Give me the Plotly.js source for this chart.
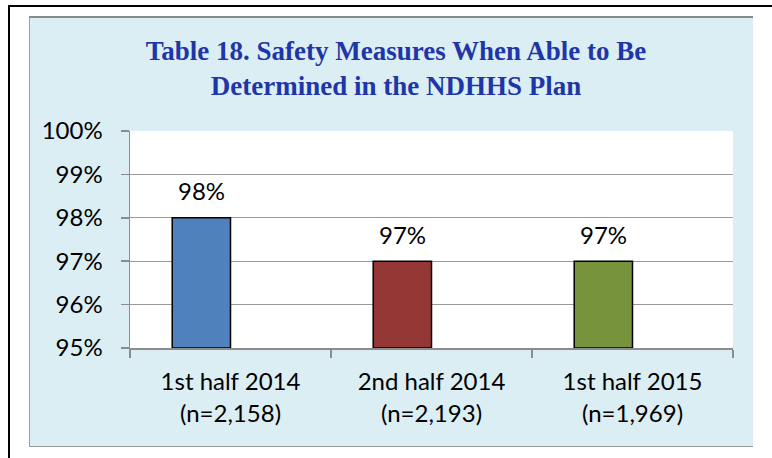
<!DOCTYPE html>
<html>
<head>
<meta charset="utf-8">
<script src="https://cdn.plot.ly/plotly-3.0.1.min.js"></script>
<style>
  html, body { margin: 0; padding: 0; background: #ffffff; width: 772px; height: 458px; overflow: hidden; }
  #frame { position: absolute; left: 8px; top: 5px; width: 800px; height: 480px;
           border-left: 2.5px solid #000; border-top: 2.5px solid #000; }
  #panel { position: absolute; left: 29px; top: 16px; width: 724px; height: 431px;
           border-top: 2px solid #8a8a8a; border-left: 1px solid #a0a0a0; border-bottom: 1.5px solid #9a9a9a;
           box-sizing: border-box; background: #DBEEF4; }
  #chart { position: absolute; left: 29px; top: 17px; width: 724px; height: 430px; }
</style>
</head>
<body>
<div id="frame"></div>
<div id="panel"></div>
<div id="chart"></div>
<script>
// ---- data ----
const categories = ["1st half 2014<br>(n=2,158)", "2nd half 2014<br>(n=2,193)", "1st half 2015<br>(n=1,969)"];
const values = [0.98, 0.97, 0.97];
const barColors = ["#4F81BD", "#953735", "#77933C"];
const yTickVals = [0.95, 0.96, 0.97, 0.98, 0.99, 1.00];
const yTickText = ["95%", "96%", "97%", "98%", "99%", "100%"];
const titleText = "Table 18. Safety Measures When Able to Be<br>Determined in the NDHHS Plan";
const axisFloor = 0.95;

const FONT = "Lato, 'Open Sans', sans-serif";

const trace = {
  type: "bar",
  x: categories,
  y: values.map(v => v - axisFloor),
  base: axisFloor,
  width: 0.29,
  offset: -0.29,
  marker: { color: barColors, line: { color: "#000000", width: 1.5 } },
  hoverinfo: "skip"
};

const annotations = categories.map((c, i) => ({
  x: c, y: values[i], xref: "x", yref: "y",
  xshift: -29, yshift: 27,
  text: Math.round(values[i] * 100) + "%",
  showarrow: false,
  font: { family: FONT, size: 24, color: "#000000" },
  xanchor: "center", yanchor: "middle"
}));

const layout = {
  width: 724, height: 430,
  margin: { l: 101, r: 20, t: 114, b: 99 },
  paper_bgcolor: "rgba(0,0,0,0)",
  plot_bgcolor: "#ffffff",
  showlegend: false,
  title: {
    text: titleText,
    font: { family: "'Liberation Serif', 'Times New Roman', serif", size: 27, color: "#1F36A8", weight: "bold" },
    x: 0.507, xref: "container", xanchor: "center",
    y: 0.9, yref: "container", yanchor: "top"
  },
  xaxis: {
    type: "category",
    showline: true, linecolor: "#8c8c8c", linewidth: 1.5,
    ticks: "outside", ticklen: 8, tickcolor: "#8c8c8c", tickwidth: 1.5,
    tickson: "boundaries",
    showgrid: false,
    tickfont: { family: FONT, size: 24, color: "#000000" },
    ticklabelstandoff: 12,
    fixedrange: true
  },
  yaxis: {
    range: [0.95, 1.0],
    tickvals: yTickVals, ticktext: yTickText,
    showline: true, linecolor: "#8c8c8c", linewidth: 1.5,
    ticks: "outside", ticklen: 8, tickcolor: "#8c8c8c", tickwidth: 1.5,
    showgrid: true, gridcolor: "#9a9a9a", gridwidth: 1.2,
    zeroline: false,
    tickfont: { family: FONT, size: 24, color: "#000000" },
    ticklabelstandoff: 13,
    fixedrange: true
  },
  annotations: annotations
};

Plotly.newPlot("chart", [trace], layout, { displayModeBar: false, staticPlot: true });
</script>
</body>
</html>
